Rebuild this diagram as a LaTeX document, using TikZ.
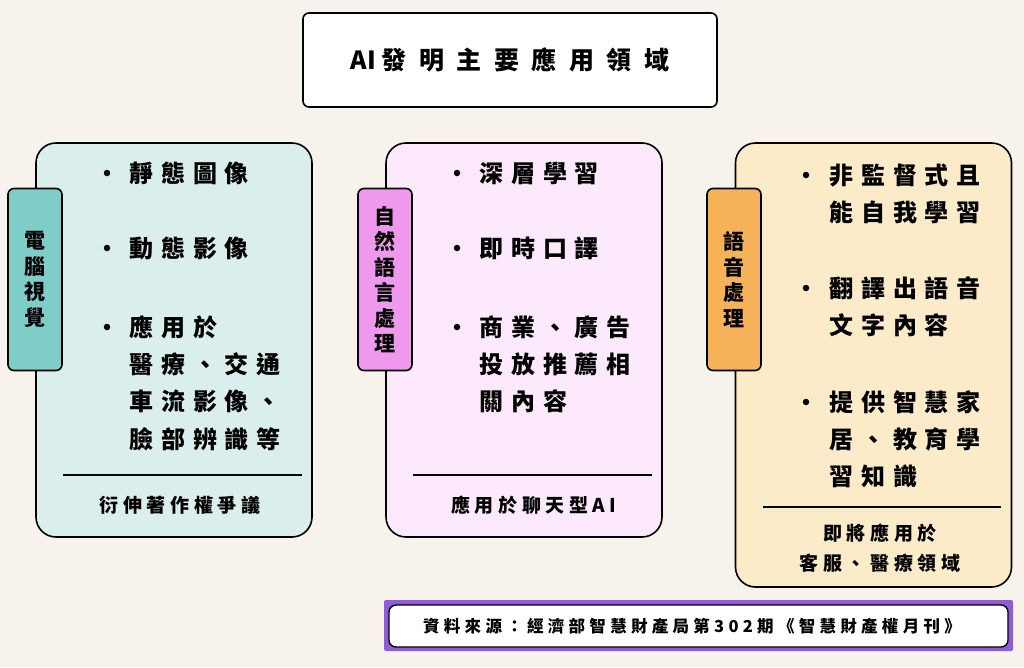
\documentclass[tikz,border=0pt]{standalone}
\usepackage{fontspec}
\usepackage{xcolor}
\newfontfamily\cjktitle{Noto Sans CJK TC}[LetterSpace=50]
\newfontfamily\cjkitem{Noto Sans CJK TC}[LetterSpace=33]
\newfontfamily\cjknote{Noto Sans CJK TC}[LetterSpace=24]
\newfontfamily\cjksrc{Noto Sans CJK TC}[LetterSpace=26]
\newfontfamily\cjktab{Noto Sans CJK TC}

\definecolor{paper}{RGB}{247,243,236}
\definecolor{tealbg}{RGB}{218,238,236}
\definecolor{tealtab}{RGB}{126,205,200}
\definecolor{pinkbg}{RGB}{252,233,252}
\definecolor{pinktab}{RGB}{238,152,238}
\definecolor{sandbg}{RGB}{251,235,201}
\definecolor{sandtab}{RGB}{246,178,88}
\definecolor{srcpurple}{RGB}{142,92,214}

\tikzset{
  panel/.style={draw, line width=1.6pt, rounded corners=20pt, minimum width=276pt},
  tab/.style={draw, line width=1.6pt, rounded corners=6pt, minimum width=54pt, minimum height=182pt, align=center, font=\cjktab\bfseries\fontsize{21}{25.5}\selectfont},
  item/.style={anchor=base west, inner sep=0pt, align=left, font=\cjkitem\bfseries\fontsize{24}{37.4}\selectfont},
  bulletdot/.style={circle, fill=black, inner sep=0pt, minimum size=6.5pt},
  notetext/.style={align=center, inner sep=0pt, font=\cjknote\bfseries\fontsize{19}{30}\selectfont}
}

\begin{document}
\begin{tikzpicture}[x=1pt,y=-1pt]
\useasboundingbox[fill=paper] (0,0) rectangle (1024,667);

\node[draw, line width=1.6pt, rounded corners=6pt, fill=white, minimum width=414pt, minimum height=94pt, font=\cjktitle\bfseries\fontsize{25}{28}\selectfont] (title) at (510,60) {{\cjktab AI}\kern6pt 發明主要應用領域};

\node[panel, fill=tealbg, minimum height=394pt] (p1) at (174,340) {};
\node[panel, fill=pinkbg, minimum height=394pt] (p2) at (524,340) {};
\node[panel, fill=sandbg, minimum height=444pt] (p3) at (873.5,365) {};

\node[tab, fill=tealtab] (tab1) at (35,279.5) {電\\腦\\視\\覺};
\node[tab, fill=pinktab] (tab2) at (385,279.5) {自\\然\\語\\言\\處\\理};
\node[tab, fill=sandtab] (tab3) at (734,279.5) {語\\音\\處\\理};

\node[bulletdot] (b1a) at (107,173) {};
\node[item] (i1a) at (129,182) {靜態圖像};
\node[bulletdot] (b1b) at (107,248) {};
\node[item] (i1b) at (129,257) {動態影像};
\node[bulletdot] (b1c) at (107,327) {};
\node[item] (i1c) at (129,448.2) {應用於\\醫療、交通\\車流影像、\\臉部辨識等};

\node[bulletdot] (b2a) at (457,173) {};
\node[item] (i2a) at (479,182) {深層學習};
\node[bulletdot] (b2b) at (457,248) {};
\node[item] (i2b) at (479,257) {即時口譯};
\node[bulletdot] (b2c) at (457,327) {};
\node[item] (i2c) at (479,410.8) {商業、廣告\\投放推薦相\\關內容};

\node[bulletdot] (b3a) at (806,175) {};
\node[item] (i3a) at (829,221.4) {非監督式且\\能自我學習};
\node[bulletdot] (b3b) at (806,288) {};
\node[item] (i3b) at (829,334.4) {翻譯出語音\\文字內容};
\node[bulletdot] (b3c) at (806,402) {};
\node[item] (i3c) at (829,485.8) {提供智慧家\\居、教育學\\習知識};

\draw[line width=1.4pt] (63,475) -- (302,475);
\draw[line width=1.4pt] (413,475) -- (652,475);
\draw[line width=1.4pt] (763,507) -- (1001,507);

\node[notetext] (n1) at (180,505) {衍伸著作權爭議};
\node[notetext] (n2) at (534,505) {應用於聊天型AI};
\node[notetext] (n3) at (880,548) {即將應用於\\客服、醫療領域};

\node[fill=srcpurple, rounded corners=2pt, minimum width=629pt, minimum height=51pt, inner sep=0pt] (srcframe) at (698.5,625.5) {};
\node[draw, line width=1.4pt, fill=white, rounded corners=7pt, minimum width=619pt, minimum height=42pt, inner sep=0pt] (srcbox) at (698.5,626) {};
\node[inner sep=0pt, font=\cjksrc\bfseries\fontsize{16.5}{20}\selectfont] (srctext) at (692,626) {資料來源：經濟部智慧財產局第302期《智慧財產權月刊》};
\end{tikzpicture}
\end{document}
